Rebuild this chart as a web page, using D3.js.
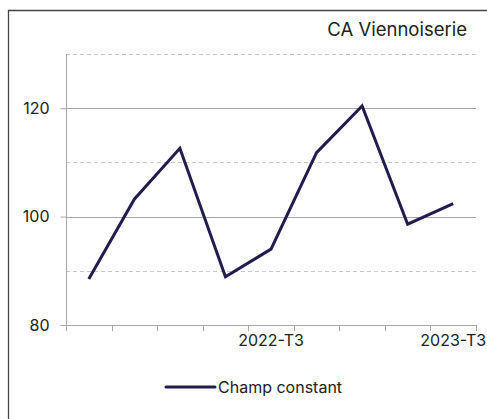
<!DOCTYPE html>
<html><head><meta charset="utf-8">
<script src="https://cdn.jsdelivr.net/npm/d3@7"></script>
<style>body{margin:0;background:#fff}svg{display:block}text{font-family:Inter,"Noto Sans",sans-serif;fill:#222}</style>
</head><body><svg id="c" width="487" height="419"></svg>
<script>
const categories = ["2021-T3","2021-T4","2022-T1","2022-T2","2022-T3","2022-T4","2023-T1","2023-T2","2023-T3"];
const values = [88.5, 103.2, 112.6, 88.9, 94.0, 111.8, 120.4, 98.6, 102.4];
const shownLabels = ["2022-T3","2023-T3"];
const yTicks = [80, 100, 120];
const yMinor = [90, 110, 130];
const title = "CA Viennoiserie";
const seriesName = "Champ constant";

const svg = d3.select("#c");
svg.append("path").attr("d","M8.5,430 V10.5 H500").attr("fill","none").attr("stroke","#444").attr("stroke-width",1.3);

const x = d3.scaleBand().domain(categories).range([66,476]);
const y = d3.scaleLinear().domain([80,130]).range([325,54]);

svg.append("text").attr("x",467).attr("y",36).attr("text-anchor","end").style("font-size","18.5px").text(title);

const g = svg.append("g");
g.selectAll(".minor").data(yMinor).join("line")
  .attr("x1",66).attr("x2",476).attr("y1",d=>Math.round(y(d))+0.5).attr("y2",d=>Math.round(y(d))+0.5)
  .attr("stroke","#c8c8c8").attr("stroke-dasharray","4,3");
g.selectAll(".major").data(yTicks.filter(d=>d>80)).join("line")
  .attr("x1",66).attr("x2",476).attr("y1",d=>Math.round(y(d))+0.5).attr("y2",d=>Math.round(y(d))+0.5)
  .attr("stroke","#a6a6a6");

const yAxis = svg.append("g").attr("transform","translate(66.5,0)")
  .call(d3.axisLeft(y).tickValues(yTicks).tickSize(6).tickPadding(11).tickFormat(d3.format("d")));
yAxis.select(".domain").attr("stroke","#a6a6a6").attr("d","M0,54V325.5");
yAxis.selectAll(".tick line").attr("stroke","#a6a6a6");
yAxis.selectAll("text").style("font-size","16px").attr("fill","#222");

const xAxis = svg.append("g").attr("transform","translate(0,325.5)")
  .call(d3.axisBottom(x).tickSize(0).tickFormat(d=>shownLabels.includes(d)?d:""));
xAxis.select(".domain").attr("stroke","#a6a6a6").attr("d","M66,0H476");
xAxis.selectAll("text").style("font-size","16px").attr("fill","#222").attr("y",20.5).attr("dy",0);
const bounds = categories.map(c=>x(c)).concat([x.range()[1]]);
svg.selectAll(".xt").data(bounds).join("line")
  .attr("x1",d=>Math.round(d)+0.5).attr("x2",d=>Math.round(d)+0.5).attr("y1",325).attr("y2",331)
  .attr("stroke","#a6a6a6");

const line = d3.line().x((d,i)=>x(categories[i])+x.bandwidth()/2).y(d=>y(d));
svg.append("path").datum(values).attr("d",line).attr("fill","none")
  .attr("stroke","#221d4f").attr("stroke-width",3).attr("stroke-linejoin","miter");

svg.append("line").attr("x1",166).attr("x2",215).attr("y1",387).attr("y2",387)
  .attr("stroke","#221d4f").attr("stroke-width",3).attr("stroke-linecap","round");
svg.append("text").attr("x",218).attr("y",393).style("font-size","16px").text(seriesName);
</script></body></html>
